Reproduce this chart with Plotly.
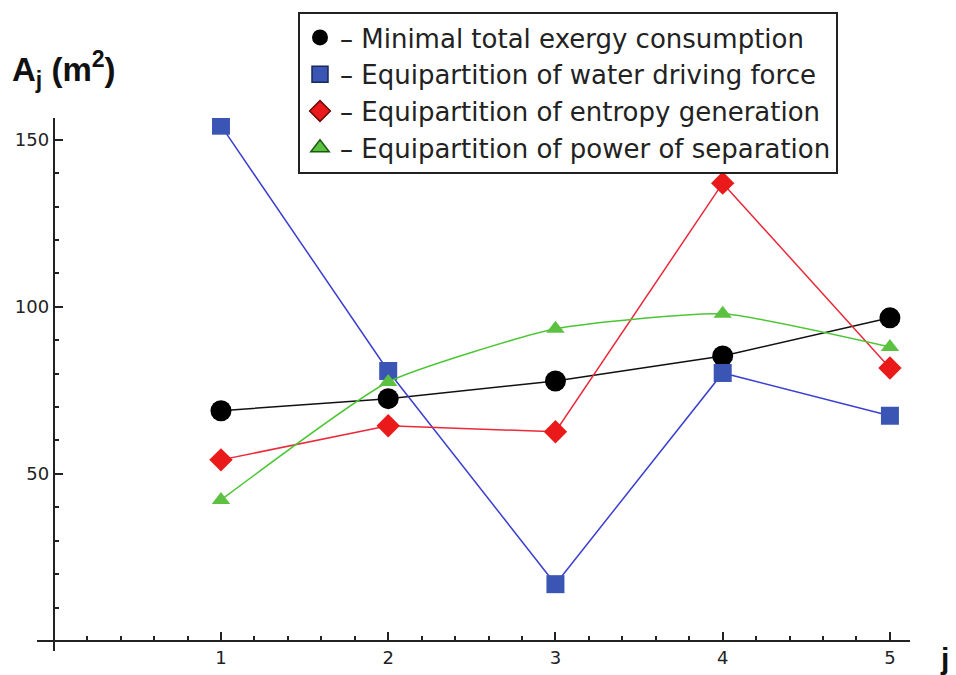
import plotly.graph_objects as go

stages = [1, 2, 3, 4, 5]
min_exergy = [68.9, 72.5, 77.8, 85.3, 96.7]
water_force = [154.2, 80.8, 17.0, 80.2, 67.4]
entropy_gen = [54.2, 64.4, 62.6, 137.0, 81.7]
power_sep = [42.2, 77.5, 93.4, 97.9, 88.0]

names = [
    "– Minimal total exergy consumption",
    "– Equipartition of water driving force",
    "– Equipartition of entropy generation",
    "– Equipartition of power of separation",
]

W, H = 956, 675
x_range = [-0.1, 5.12]
y_range = [-3, 156.5]
ml, mr, mt, mb = 37, 46, 118, 24
PW, PH = W - ml - mr, H - mt - mb


def px_x(p):
    return (p - ml) / PW


def px_y(p):
    return (H - mb - p) / PH


series = [
    (min_exergy, names[0], "#111111", "circle", "#000000", "#000000", 21, "linear"),
    (water_force, names[1], "#3b3fd0", "square", "#3a55b4", "#18285a", 18, "linear"),
    (entropy_gen, names[2], "#ea2a3a", "diamond", "#ea1a1a", "#6a0a0a", 18, "linear"),
    (power_sep, names[3], "#4cc634", "triangle-up", "#5cc040", "#1a5a10", 16, "spline"),
]

fig = go.Figure()
for vals, name, lc, sym, mc, bc, sz, shape in series:
    fig.add_trace(go.Scatter(
        x=stages, y=vals, mode="lines+markers", showlegend=False,
        line=dict(color=lc, width=1.5, shape=shape, smoothing=0.5),
        marker=dict(symbol=sym, size=sz, color=mc, line=dict(width=0)),
    ))
    fig.add_trace(go.Scatter(
        x=[None], y=[None], mode="markers", name=name,
        marker=dict(symbol=sym, size=20, color=mc,
                    line=dict(color=bc, width=1.5 if sym != "circle" else 0)),
    ))

# axes cross at the origin
xpos = (0 - x_range[0]) / (x_range[1] - x_range[0])
ypos = (0 - y_range[0]) / (y_range[1] - y_range[0])

axis_common = dict(
    domain=[0, 1], anchor="free",
    showgrid=False, zeroline=False, showline=True, linecolor="#222222", linewidth=2,
    ticks="inside", ticklen=8, tickwidth=2, tickcolor="#222222",
    tickfont=dict(size=18, family="DejaVu Sans", color="#222222"),
    fixedrange=True,
)

fig.update_layout(
    width=W, height=H,
    margin=dict(l=ml, r=mr, t=mt, b=mb, autoexpand=False),
    paper_bgcolor="white", plot_bgcolor="white",
    font=dict(family="DejaVu Sans", color="#222222"),
    xaxis=dict(
        range=x_range, position=ypos,
        tickmode="array", tickvals=stages, ticktext=[str(s) for s in stages],
        minor=dict(dtick=0.2, tick0=0, ticks="inside", ticklen=4, tickwidth=2, tickcolor="#222222"),
        **axis_common,
    ),
    yaxis=dict(
        range=y_range, position=xpos,
        tickmode="array", tickvals=[50, 100, 150], ticktext=["50", "100", "150"],
        minor=dict(dtick=10, tick0=0, ticks="inside", ticklen=4, tickwidth=2, tickcolor="#222222"),
        **axis_common,
    ),
    legend=dict(
        x=px_x(298), y=px_y(12),
        xanchor="left", yanchor="top",
        bgcolor="white", bordercolor="#222222", borderwidth=2,
        font=dict(family="DejaVu Sans", size=26, color="#222222"),
        tracegroupgap=0, itemsizing="trace",
    ),
    annotations=[
        dict(text="<b>A<sub>j</sub> (m<sup>2</sup>)</b>", xref="paper", yref="paper",
             x=px_x(10), y=px_y(44),
             xanchor="left", yanchor="top", showarrow=False,
             font=dict(family="Liberation Sans", size=33, color="#111111")),
        dict(text="<b>j</b>", xref="paper", yref="paper",
             x=px_x(938), y=px_y(640),
             xanchor="left", yanchor="top", showarrow=False,
             font=dict(family="Liberation Sans", size=30, color="#111111")),
    ],
)

fig.write_html(
    "out.html",
    config={"displayModeBar": False},
    post_script="document.body.style.margin='0';document.body.style.padding='0';",
)
